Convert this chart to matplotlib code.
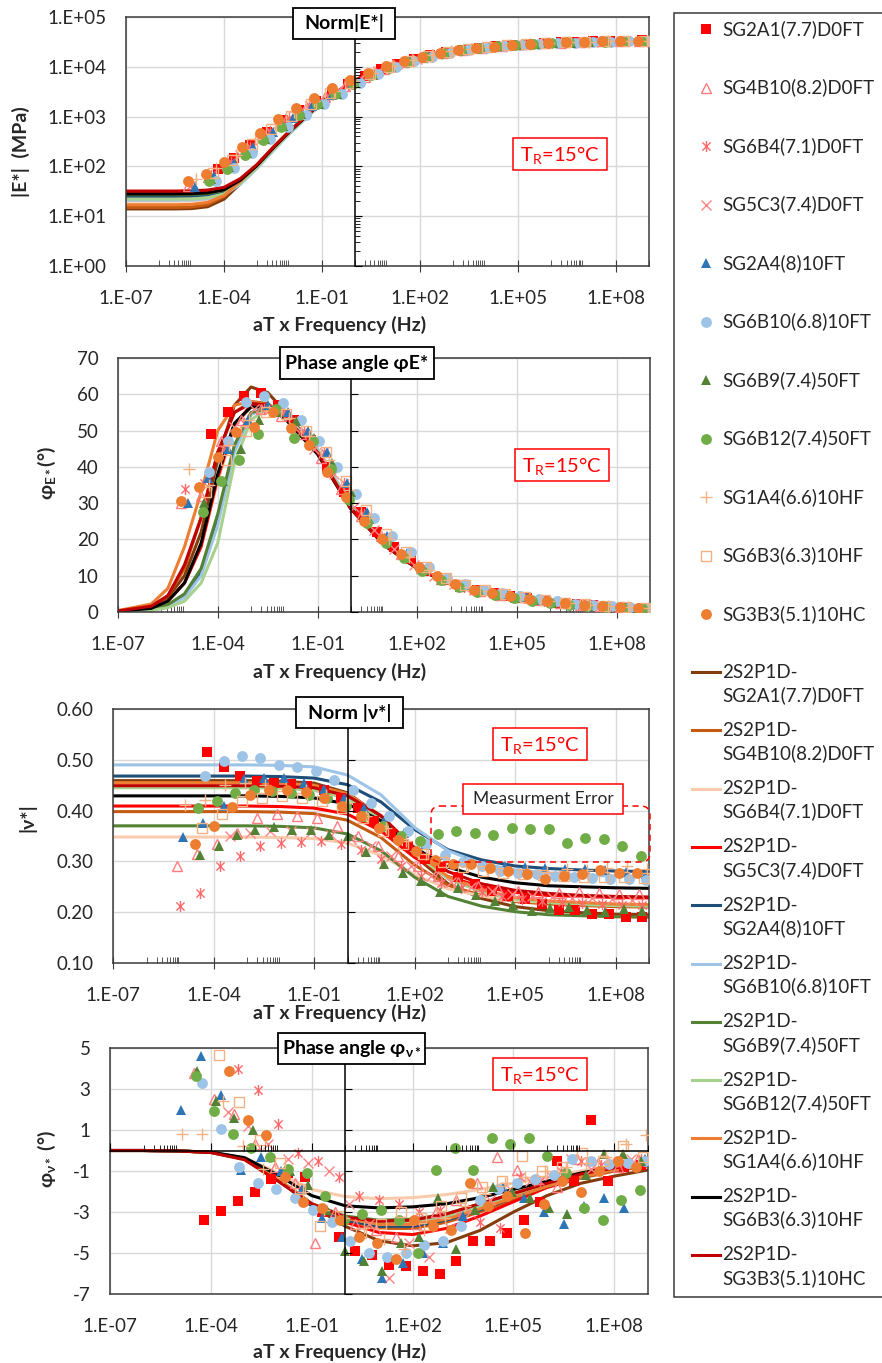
import numpy as np
import matplotlib
matplotlib.use("Agg")
import matplotlib.pyplot as plt
from matplotlib.path import Path
from matplotlib.patches import Rectangle, FancyBboxPatch
from matplotlib.ticker import FixedLocator, NullFormatter, NullLocator, LogLocator

plt.rcParams['font.family'] = ['Lato', 'DejaVu Sans']
plt.rcParams['mathtext.fontset'] = 'custom'
plt.rcParams['mathtext.rm'] = 'Lato'
plt.rcParams['mathtext.bf'] = 'Lato:bold'
plt.rcParams['mathtext.it'] = 'Lato:italic'
plt.rcParams['mathtext.fallback'] = 'stixsans'

nan = np.nan

# ---------------- data (log10 of aT x frequency, per specimen) ----------------
spec_names = ['SG2A1(7.7)D0FT', 'SG4B10(8.2)D0FT', 'SG6B4(7.1)D0FT', 'SG5C3(7.4)D0FT',
              'SG2A4(8)10FT', 'SG6B10(6.8)10FT', 'SG6B9(7.4)50FT', 'SG6B12(7.4)50FT',
              'SG1A4(6.6)10HF', 'SG6B3(6.3)10HF', 'SG3B3(5.1)10HC']

lf_sg2a1 = [-4.2, -3.7, -3.2, -2.7, -2.2, -1.7, -1.2, -0.7, -0.2, 0.3, 0.8, 1.3, 1.8, 2.3, 2.8, 3.3, 3.8, 4.3, 4.8, 5.3, 5.8, 6.3, 6.8, 7.3, 7.8, 8.3, 8.8]
e_sg2a1 = [88, 150, 275, 500, 850, 1380, 2080, 3100, 4600, 6600, 8900, 11500, 14300, 17000, 19700, 22000, 24100, 26000, 27700, 28900, 30000, 31000, 31800, 32600, 33100, 33400, 33800]
phi_sg2a1 = [49, 55, 59.5, 60.3, 57, 53, 47.5, 40, 33, 27.5, 22, 18, 14.5, 11.2, 8.8, 7.2, 6.0, 5.2, 4.4, 3.8, 3.1, 2.6, 2.1, 1.8, 1.5, 1.3, 1.1]
nu_sg2a1 = [0.515, 0.486, 0.468, 0.458, 0.455, 0.452, 0.448, 0.44, 0.425, 0.405, 0.38, 0.355, 0.33, 0.305, 0.289, 0.27, 0.256, 0.241, 0.231, 0.226, 0.217, 0.204, 0.205, 0.197, 0.196, 0.19, 0.19]
phinu_sg2a1 = [-3.39, -2.95, -2.46, -2.0, -1.4, -1.1, -1.3, -3.0, -4.2, -4.9, -5.1, -5.6, -5.65, -5.9, -6.0, -5.4, -4.4, -4.4, -4.0, -3.4, -2.5, -0.5, -1.5, 1.5, -1.5, -0.8, -0.7]

lf_sg4b10 = [-5.1, -4.5, -3.9, -3.3, -2.7, -2.1, -1.5, -0.9, -0.3, 0.3, 0.9, 1.5, 2.1, 2.7, 3.3, 3.9, 4.5, 5.1, 5.7, 6.3, 6.9, 7.5, 8.1, 8.7]
e_sg4b10 = [40, 60, 108, 225, 460, 870, 1500, 2450, 4050, 6300, 9100, 12400, 15700, 18900, 21800, 24200, 26400, 28200, 29400, 30600, 31600, 32500, 32900, 33300]
phi_sg4b10 = [30, 32, 47, 53, 56, 54, 49, 42.5, 34, 26.5, 21, 16, 12, 9.2, 7.2, 5.8, 4.8, 4.0, 3.2, 2.6, 2.0, 1.6, 1.4, 1.2]
nu_sg4b10 = [0.291, 0.315, 0.334, 0.356, 0.385, 0.393, 0.39, 0.385, 0.37, 0.35, 0.33, 0.31, 0.29, 0.272, 0.26, 0.252, 0.245, 0.242, 0.24, 0.238, 0.24, 0.238, 0.236, 0.235]
phinu_sg4b10 = [nan, 3.8, 2.5, 1.8, 0.3, -0.8, -1.6, -4.5, -3.0, -3.6, -3.9, -4.2, -3.6, -3.0, -2.4, -1.6, -0.3, -0.95, -1.4, -1.8, -0.4, -0.6, -0.8, -0.4]

lf_sg6b4 = [-5.0, -4.4, -3.8, -3.2, -2.6, -2.0, -1.4, -0.8, -0.2, 0.4, 1.0, 1.6, 2.2, 2.8, 3.4, 4.0, 4.6, 5.2, 5.8, 6.4, 7.0, 7.6, 8.2, 8.8]
e_sg6b4 = [42, 66, 121, 250, 515, 950, 1680, 2650, 4350, 6800, 9700, 12900, 16200, 19500, 22300, 24600, 26600, 28300, 29500, 30700, 31600, 32500, 32900, 33300]
phi_sg6b4 = [34, 35.5, 45, 52, 56, 55, 50, 44, 35.5, 27, 20.5, 15.5, 11.5, 8.8, 7.0, 5.7, 4.7, 3.9, 3.1, 2.5, 2.0, 1.6, 1.4, 1.2]
nu_sg6b4 = [0.212, 0.238, 0.29, 0.31, 0.33, 0.337, 0.338, 0.34, 0.335, 0.322, 0.305, 0.29, 0.272, 0.258, 0.248, 0.24, 0.232, 0.226, 0.222, 0.22, 0.218, 0.216, 0.215, 0.214]
phinu_sg6b4 = [nan, nan, nan, 4.0, 2.95, 1.3, -0.1, -0.5, -1.3, -2.2, -2.4, -2.6, -3.0, -2.9, -3.2, -3.5, -3.8, -1.3, -1.5, -1.0, -0.5, -0.7, -0.6, -0.4]

lf_sg5c3 = [-3.5, -2.9, -2.3, -1.7, -1.1, -0.5, 0.1, 0.7, 1.3, 1.9, 2.5, 3.1, 3.7, 4.3, 4.9, 5.5, 6.1, 6.7, 7.3, 7.9, 8.5]
e_sg5c3 = [166, 336, 670, 1230, 2080, 3350, 5450, 8100, 11300, 14600, 17900, 21000, 23500, 25700, 27700, 28900, 30200, 31300, 32200, 32700, 33200]
phi_sg5c3 = [51, 56, 55.5, 51, 45, 38, 29, 22.5, 17.5, 13, 9.8, 7.6, 6.2, 5.2, 4.4, 3.6, 2.9, 2.3, 1.8, 1.5, 1.2]
nu_sg5c3 = [0.35, 0.355, 0.36, 0.36, 0.358, 0.352, 0.345, 0.33, 0.31, 0.29, 0.272, 0.26, 0.25, 0.242, 0.236, 0.232, 0.23, 0.228, 0.227, 0.226, 0.225]
phinu_sg5c3 = [1.9, 1.2, 0.3, -0.4, -0.6, -1.0, -2.6, -3.6, -6.2, -4.5, -5.2, -3.8, -3.0, -2.4, -1.9, -1.5, -1.2, -0.4, -0.9, -0.5, -0.4]

lf_sg2a4 = [-4.9, -4.3, -3.7, -3.1, -2.5, -1.9, -1.3, -0.7, -0.1, 0.5, 1.1, 1.7, 2.3, 2.9, 3.5, 4.1, 4.7, 5.3, 5.9, 6.5, 7.1, 7.7, 8.3, 8.9]
e_sg2a4 = [39, 63, 119, 242, 500, 920, 1620, 2680, 4500, 6950, 9950, 13200, 16500, 19700, 22400, 24700, 26700, 28200, 29500, 30700, 31600, 32300, 32700, 33200]
phi_sg2a4 = [30, 37, 45, 53, 57, 55, 50, 44, 35.5, 27.5, 21, 16.2, 12.4, 9.3, 7.3, 6.0, 5.0, 4.1, 3.3, 2.6, 2.0, 1.6, 1.3, 1.1]
nu_sg2a4 = [0.348, 0.376, 0.41, 0.462, 0.465, 0.464, 0.455, 0.443, 0.425, 0.405, 0.38, 0.355, 0.332, 0.312, 0.3, 0.292, 0.29, 0.288, 0.287, 0.286, 0.285, 0.284, 0.28, 0.275]
phinu_sg2a4 = [2.0, 4.6, 2.7, -0.95, -0.3, -1.0, -1.9, -3.3, -4.2, -5.3, -6.2, -5.5, -5.0, -4.5, -3.2, -2.3, -1.8, -2.3, -3.0, -3.6, -2.7, -2.3, -2.8, -0.4]

lf_sg6b10 = [-4.25, -3.7, -3.15, -2.6, -2.05, -1.5, -0.95, -0.4, 0.15, 0.7, 1.25, 1.8, 2.35, 2.9, 3.45, 4.0, 4.55, 5.1, 5.65, 6.2, 6.75, 7.3, 7.85, 8.4, 8.9]
e_sg6b10 = [52, 94, 184, 355, 630, 1080, 1750, 2850, 4750, 7100, 9900, 13000, 16000, 19000, 21600, 23800, 25800, 27500, 28600, 29800, 30700, 31600, 32100, 32500, 32900]
phi_sg6b10 = [38.5, 47, 58, 59.5, 57.5, 53, 47, 40, 32.5, 26, 21, 16.5, 12.5, 9.5, 7.6, 6.2, 5.1, 4.3, 3.6, 2.9, 2.3, 1.9, 1.6, 1.3, 1.1]
nu_sg6b10 = [0.468, 0.498, 0.507, 0.503, 0.49, 0.485, 0.478, 0.46, 0.44, 0.415, 0.39, 0.36, 0.335, 0.312, 0.298, 0.29, 0.282, 0.278, 0.275, 0.272, 0.27, 0.268, 0.266, 0.265, 0.264]
phinu_sg6b10 = [3.3, 1.05, -0.8, -1.6, -1.9, -2.3, -2.9, -3.5, -4.4, -5.0, -5.2, -5.0, -4.6, -4.4, -3.7, -2.4, -1.9, -1.6, -1.4, -1.2, -0.4, -0.5, -0.65, -0.6, -0.5]

lf_sg6b9 = [-4.4, -3.85, -3.3, -2.75, -2.2, -1.65, -1.1, -0.55, 0.0, 0.55, 1.1, 1.65, 2.2, 2.75, 3.3, 3.85, 4.4, 4.95, 5.5, 6.05, 6.6, 7.15, 7.7, 8.25, 8.8]
e_sg6b9 = [57, 97, 185, 360, 650, 1130, 1820, 2900, 4700, 7000, 9800, 12800, 15800, 18800, 21400, 23700, 25700, 27400, 28500, 29700, 30700, 31500, 32200, 32600, 33000]
phi_sg6b9 = [30, 36, 45, 53, 55, 52.5, 48, 41, 33, 25.5, 19.5, 15, 11.5, 8.8, 7.0, 5.7, 4.7, 3.9, 3.2, 2.6, 2.1, 1.7, 1.4, 1.2, 1.0]
nu_sg6b9 = [0.313, 0.33, 0.352, 0.362, 0.367, 0.362, 0.362, 0.352, 0.35, 0.318, 0.295, 0.277, 0.262, 0.24, 0.247, 0.233, 0.222, 0.215, 0.202, 0.209, 0.21, 0.204, 0.2, 0.206, 0.202]
phinu_sg6b9 = [3.9, 2.4, 1.6, 1.0, -0.3, -1.0, -1.7, -2.9, -4.9, -5.4, -5.9, -4.5, -4.2, -2.3, -4.8, -2.9, -1.8, -2.0, -2.3, -2.8, -3.1, -1.2, -0.15, -0.15, -0.5]

lf_sg6b12 = [-4.45, -3.9, -3.35, -2.8, -2.25, -1.7, -1.15, -0.6, -0.05, 0.5, 1.05, 1.6, 2.15, 2.7, 3.25, 3.8, 4.35, 4.9, 5.45, 6.0, 6.55, 7.1, 7.65, 8.2, 8.75]
e_sg6b12 = [52, 88, 172, 345, 625, 1070, 1770, 2800, 4550, 6800, 9600, 12700, 15600, 18600, 21300, 23600, 25600, 27400, 28500, 29700, 30800, 31500, 32200, 32600, 33100]
phi_sg6b12 = [27.5, 36, 42, 49, 56, 48, 47, 39.5, 31, 24.5, 19, 14.8, 11.3, 8.7, 7.0, 5.6, 4.6, 3.8, 3.1, 2.5, 2.0, 1.7, 1.4, 1.2, 1.0]
nu_sg6b12 = [0.405, 0.419, 0.435, 0.44, 0.438, 0.435, 0.43, 0.425, 0.41, 0.39, 0.37, 0.35, 0.34, 0.354, 0.36, 0.356, 0.352, 0.365, 0.364, 0.363, 0.337, 0.347, 0.345, 0.33, 0.31]
phinu_sg6b12 = [3.65, 1.95, 0.8, 0.1, -0.3, -0.9, -1.1, -2.2, -3.4, -3.1, -2.9, -3.4, -5.0, -0.95, 0.1, -0.95, 0.6, 0.3, 0.6, -0.25, -1.1, -2.8, -3.4, -2.4, -1.95]

lf_sg1a4 = [-4.85, -4.25, -3.65, -3.05, -2.45, -1.85, -1.25, -0.65, -0.05, 0.55, 1.15, 1.75, 2.35, 2.95, 3.55, 4.15, 4.75, 5.35, 5.95, 6.55, 7.15, 7.75, 8.35, 8.95]
e_sg1a4 = [56, 91, 173, 355, 710, 1250, 2080, 3250, 5200, 7600, 10500, 13900, 17200, 20300, 22900, 25100, 27100, 28600, 29900, 31100, 31900, 32600, 33100, 33500]
phi_sg1a4 = [39.5, 35, 46, 53, 55.5, 53.5, 48.5, 42, 33.5, 26, 20, 15.2, 11.6, 8.9, 7.0, 5.7, 4.7, 3.9, 3.1, 2.5, 2.0, 1.6, 1.3, 1.1]
nu_sg1a4 = [0.412, 0.42, 0.45, 0.455, 0.45, 0.445, 0.44, 0.43, 0.415, 0.39, 0.365, 0.34, 0.315, 0.3, 0.29, 0.285, 0.28, 0.282, 0.28, 0.285, 0.283, 0.287, 0.29, 0.285]
phinu_sg1a4 = [0.8, 0.8, 2.4, 0.2, -0.9, -1.3, -2.0, -2.9, -3.3, -3.8, -4.3, -4.8, -3.9, -3.3, -2.7, -2.1, -1.6, -1.3, -1.0, -0.8, -0.6, -0.3, 0.3, 0.75]

lf_sg6b3 = [-4.35, -3.75, -3.15, -2.55, -1.95, -1.35, -0.75, -0.15, 0.45, 1.05, 1.65, 2.25, 2.85, 3.45, 4.05, 4.65, 5.25, 5.85, 6.45, 7.05, 7.65, 8.25, 8.85]
e_sg6b3 = [75, 136, 282, 570, 1040, 1780, 2950, 4750, 7200, 10100, 13300, 16600, 19700, 22500, 24800, 26800, 28300, 29600, 30800, 31700, 32400, 32900, 33400]
phi_sg6b3 = [33, 42, 50, 55, 54.5, 50, 44, 36, 28, 21.5, 16.5, 12.5, 9.5, 7.5, 6.0, 5.0, 4.1, 3.3, 2.6, 2.1, 1.7, 1.4, 1.1]
nu_sg6b3 = [0.365, 0.394, 0.418, 0.425, 0.428, 0.425, 0.418, 0.405, 0.385, 0.36, 0.335, 0.315, 0.298, 0.288, 0.282, 0.278, 0.275, 0.273, 0.272, 0.27, 0.27, 0.27, 0.268]
phinu_sg6b3 = [nan, 4.66, 2.35, 0.5, -0.6, -1.9, -3.7, -3.2, -4.0, -3.6, -3.0, -3.3, -2.7, -2.3, -1.8, -1.5, -0.25, -1.0, -0.8, -0.1, -0.5, 0.2, -0.3]

lf_sg3b3 = [-5.1, -4.55, -4.0, -3.45, -2.9, -2.35, -1.8, -1.25, -0.7, -0.15, 0.4, 0.95, 1.5, 2.05, 2.6, 3.15, 3.7, 4.25, 4.8, 5.35, 5.9, 6.45, 7.0, 7.55, 8.1, 8.65]
e_sg3b3 = [50, 70, 120, 240, 470, 880, 1500, 2350, 3700, 5400, 7600, 10200, 13000, 15800, 18600, 21300, 23600, 25500, 27200, 28600, 29800, 30900, 31700, 32500, 33000, 33500]
phi_sg3b3 = [30.5, 34.5, 42.8, 49.6, 51, 55, 50.6, 46, 38.5, 31.7, 25, 20, 16, 12.5, 9.8, 7.6, 6.2, 5.2, 4.4, 3.7, 3.0, 2.4, 2.0, 1.6, 1.3, 1.1]
nu_sg3b3 = [nan, 0.334, 0.369, 0.407, 0.43, 0.44, 0.44, 0.437, 0.425, 0.41, 0.39, 0.365, 0.342, 0.32, 0.303, 0.295, 0.295, 0.287, 0.281, 0.276, 0.265, 0.271, 0.276, 0.283, 0.278, 0.277]
phinu_sg3b3 = [nan, nan, nan, 3.9, 1.5, 0.75, -1.3, -2.5, -2.8, -3.4, -4.2, -4.5, -5.3, -3.4, -3.7, -3.9, -1.6, -2.7, -2.2, -4.0, -2.6, -1.5, -2.0, -1.0, -0.5, -0.8]

# ---------------- 2S2P1D model curves ----------------
model_names = ['2S2P1D-\n' + n for n in spec_names]
g_fast = [-7, -6, -5.5, -5, -4.5, -4, -3.5, -3, -2.5, -2, -1, 0, 1, 2, 3, 4, 5, 6, 7, 8, 9]
g_slow = [-7, -6, -5, -4, -3, -2, -1, 0, 1, 2, 3, 4, 5, 6, 7, 8, 9]

me_sg2a1 = [14, 14, 14, 14.2, 15.5, 22, 45, 95, 220, 480, 1950, 5200, 10400, 15900, 21300, 25300, 28300, 30300, 31700, 32700, 33300]
me_sg4b10 = [15, 15, 15, 15.3, 17, 25, 50, 105, 240, 510, 2050, 5400, 10700, 16200, 21600, 25600, 28600, 30600, 32000, 33000, 33600]
me_sg6b4 = [20, 20, 20, 20.3, 22, 28, 48, 98, 225, 490, 2000, 5300, 10500, 16000, 21500, 25500, 28500, 30500, 31900, 32900, 33500]
me_sg5c3 = [30, 30, 30, 30.3, 31.5, 36, 55, 105, 235, 500, 2000, 5300, 10600, 16100, 21500, 25500, 28500, 30500, 31900, 32900, 33500]
me_sg2a4 = [25, 25, 25, 25.2, 26.5, 31, 50, 100, 225, 480, 1950, 5200, 10400, 15900, 21300, 25300, 28300, 30300, 31700, 32700, 33300]
me_sg6b10 = [21, 21, 21, 21.2, 22.5, 27, 44, 90, 205, 450, 1850, 5000, 10100, 15600, 21000, 25000, 28000, 30000, 31400, 32400, 33000]
me_sg6b9 = [27, 27, 27, 27.2, 28.5, 33, 52, 102, 230, 490, 1980, 5250, 10500, 16000, 21400, 25400, 28400, 30400, 31800, 32800, 33400]
me_sg6b12 = [22, 22, 22, 22.2, 23.5, 28, 46, 94, 215, 465, 1900, 5100, 10250, 15750, 21200, 25200, 28200, 30200, 31600, 32600, 33200]
me_sg1a4 = [17, 17, 17, 17.3, 19, 26, 50, 105, 240, 515, 2050, 5400, 10700, 16200, 21600, 25600, 28600, 30600, 32000, 33000, 33600]
me_sg6b3 = [28, 28, 28, 28.2, 29.5, 34, 53, 103, 232, 495, 1990, 5280, 10500, 16000, 21450, 25450, 28450, 30450, 31850, 32850, 33450]
me_sg3b3 = [32, 32, 32, 32.3, 33.5, 38, 57, 108, 240, 505, 2020, 5330, 10600, 16100, 21500, 25500, 28500, 30500, 31900, 32900, 33500]

mphi_sg2a1 = [0.3, 1.5, 4, 10, 22, 42, 57, 62, 60.5, 55.5, 44.5, 28.5, 18.5, 12, 7.8, 5.6, 4.2, 3.1, 2.3, 1.7, 1.2]
mphi_sg4b10 = [0.3, 1.5, 4.5, 12, 26, 44, 55, 58, 57.5, 54, 44, 28.5, 18.5, 12, 7.8, 5.6, 4.2, 3.1, 2.3, 1.7, 1.2]
mphi_sg6b4 = [0.2, 1, 3, 8, 18, 36, 51, 56.5, 57, 54, 44, 28.5, 18.5, 12, 7.8, 5.6, 4.2, 3.1, 2.3, 1.7, 1.2]
mphi_sg5c3 = [0.2, 1, 3, 8, 18, 37, 51.5, 57, 57, 54, 44, 29, 18.5, 12, 7.8, 5.6, 4.2, 3.1, 2.3, 1.7, 1.2]
mphi_sg2a4 = [0.1, 0.6, 1.8, 4.5, 11, 26, 45, 54.5, 56.5, 54, 44.5, 29, 18.5, 12, 7.8, 5.6, 4.2, 3.1, 2.3, 1.7, 1.2]
mphi_sg6b10 = [0.1, 0.6, 1.7, 4, 10, 24, 44, 54.5, 56.5, 54.5, 45, 29.5, 18.5, 12, 7.8, 5.6, 4.2, 3.1, 2.3, 1.7, 1.2]
mphi_sg6b9 = [0.1, 0.7, 2, 5, 12, 27, 46, 55, 56, 53.5, 44, 29, 18.5, 12, 7.8, 5.6, 4.2, 3.1, 2.3, 1.7, 1.2]
mphi_sg6b12 = [0.1, 0.4, 1.2, 3, 8, 19, 41, 53, 56, 54, 44.5, 29, 18.5, 12, 7.8, 5.6, 4.2, 3.1, 2.3, 1.7, 1.2]
mphi_sg1a4 = [0.4, 2.2, 6.5, 18, 33, 50, 57, 58, 57, 54, 44, 28.5, 18.5, 12, 7.8, 5.6, 4.2, 3.1, 2.3, 1.7, 1.2]
mphi_sg6b3 = [0.2, 1, 3, 8, 19, 38, 52, 56.5, 56.5, 53.5, 43.5, 28.5, 18.5, 12, 7.8, 5.6, 4.2, 3.1, 2.3, 1.7, 1.2]
mphi_sg3b3 = [0.3, 1.6, 4.5, 13, 26, 44, 55, 57.5, 57, 54, 44, 28.5, 18.5, 12, 7.8, 5.6, 4.2, 3.1, 2.3, 1.7, 1.2]

mnu_sg2a1 = [0.459, 0.459, 0.459, 0.459, 0.459, 0.458, 0.454, 0.435, 0.388, 0.311, 0.256, 0.227, 0.211, 0.203, 0.199, 0.196, 0.195]
mnu_sg4b10 = [0.398, 0.398, 0.398, 0.398, 0.398, 0.397, 0.394, 0.381, 0.347, 0.293, 0.253, 0.233, 0.221, 0.216, 0.213, 0.211, 0.21]
mnu_sg6b4 = [0.348, 0.348, 0.348, 0.348, 0.348, 0.347, 0.345, 0.336, 0.312, 0.274, 0.246, 0.232, 0.223, 0.219, 0.217, 0.216, 0.215]
mnu_sg5c3 = [0.409, 0.409, 0.409, 0.409, 0.409, 0.408, 0.405, 0.393, 0.36, 0.308, 0.27, 0.25, 0.239, 0.233, 0.231, 0.229, 0.228]
mnu_sg2a4 = [0.468, 0.468, 0.468, 0.468, 0.468, 0.467, 0.464, 0.451, 0.417, 0.363, 0.323, 0.303, 0.291, 0.286, 0.283, 0.281, 0.28]
mnu_sg6b10 = [0.49, 0.49, 0.49, 0.49, 0.49, 0.489, 0.486, 0.47, 0.431, 0.367, 0.321, 0.296, 0.283, 0.277, 0.273, 0.271, 0.27]
mnu_sg6b9 = [0.37, 0.37, 0.37, 0.37, 0.37, 0.369, 0.366, 0.354, 0.321, 0.269, 0.231, 0.212, 0.201, 0.195, 0.193, 0.191, 0.19]
mnu_sg6b12 = [0.445, 0.445, 0.445, 0.445, 0.445, 0.444, 0.44, 0.424, 0.382, 0.315, 0.266, 0.24, 0.226, 0.219, 0.215, 0.213, 0.212]
mnu_sg1a4 = [0.455, 0.455, 0.455, 0.455, 0.455, 0.454, 0.45, 0.433, 0.39, 0.321, 0.27, 0.244, 0.229, 0.222, 0.219, 0.216, 0.215]
mnu_sg6b3 = [0.429, 0.429, 0.429, 0.429, 0.429, 0.428, 0.425, 0.413, 0.38, 0.327, 0.289, 0.269, 0.258, 0.252, 0.25, 0.248, 0.247]
mnu_sg3b3 = [0.449, 0.449, 0.449, 0.449, 0.449, 0.448, 0.445, 0.429, 0.39, 0.326, 0.28, 0.256, 0.243, 0.237, 0.233, 0.231, 0.23]

mpn_sg2a1 = [0, 0, -0.02, -0.08, -0.4, -1.4, -2.7, -3.7, -4.4, -4.65, -4.5, -3.9, -3.0, -2.2, -1.6, -1.25, -0.95]
mpn_sg4b10 = [0, 0, -0.02, -0.09, -0.4, -1.4, -2.6, -3.4, -3.8, -3.8, -3.5, -3.0, -2.4, -1.8, -1.35, -1.0, -0.75]
mpn_sg6b4 = [0, 0, -0.02, -0.08, -0.35, -1.1, -1.9, -2.25, -2.35, -2.3, -2.15, -1.9, -1.6, -1.3, -1.0, -0.75, -0.55]
mpn_sg5c3 = [0, 0, -0.02, -0.09, -0.4, -1.4, -2.6, -3.5, -4.0, -4.1, -3.8, -3.2, -2.5, -1.8, -1.3, -0.9, -0.65]
mpn_sg2a4 = [0, 0, -0.02, -0.09, -0.4, -1.45, -2.7, -3.4, -3.7, -3.7, -3.4, -2.9, -2.3, -1.75, -1.3, -0.95, -0.7]
mpn_sg6b10 = [0, 0, -0.02, -0.08, -0.38, -1.4, -2.6, -3.3, -3.6, -3.6, -3.3, -2.8, -2.2, -1.7, -1.25, -0.9, -0.65]
mpn_sg6b9 = [0, 0, -0.02, -0.09, -0.42, -1.45, -2.6, -3.2, -3.4, -3.35, -3.1, -2.6, -2.1, -1.6, -1.2, -0.9, -0.65]
mpn_sg6b12 = [0, 0, -0.02, -0.09, -0.4, -1.42, -2.6, -3.25, -3.5, -3.45, -3.2, -2.7, -2.15, -1.65, -1.2, -0.9, -0.65]
mpn_sg1a4 = [0, 0, -0.02, -0.09, -0.4, -1.4, -2.6, -3.3, -3.6, -3.6, -3.35, -2.85, -2.3, -1.75, -1.3, -0.95, -0.7]
mpn_sg6b3 = [0, 0, -0.02, -0.08, -0.35, -1.2, -2.2, -2.7, -2.8, -2.75, -2.6, -2.3, -1.9, -1.5, -1.1, -0.8, -0.6]
mpn_sg3b3 = [0, 0, -0.02, -0.1, -0.45, -1.5, -2.6, -3.25, -3.45, -3.4, -3.1, -2.6, -2.1, -1.6, -1.15, -0.85, -0.6]

# ---------------- axis ticks ----------------
xtick_vals = [1e-7, 1e-4, 1e-1, 1e2, 1e5, 1e8]
xtick_text = ['1.E-07', '1.E-04', '1.E-01', '1.E+02', '1.E+05', '1.E+08']
e_ticks = [1, 10, 100, 1000, 10000, 100000]
e_tick_text = ['1.E+00', '1.E+01', '1.E+02', '1.E+03', '1.E+04', '1.E+05']
phi_ticks = [0, 10, 20, 30, 40, 50, 60, 70]
nu_ticks = [0.1, 0.2, 0.3, 0.4, 0.5, 0.6]
nu_tick_text = ['0.10', '0.20', '0.30', '0.40', '0.50', '0.60']
pn_ticks = [-7, -5, -3, -1, 1, 3, 5]

# ---------------- styles ----------------
STAR = Path([(-1, -1), (1, 1), (-1, 1), (1, -1), (0, -1.35), (0, 1.35)],
            [Path.MOVETO, Path.LINETO, Path.MOVETO, Path.LINETO, Path.MOVETO, Path.LINETO])

spec_style = [
    dict(marker='s', ms=6.5, mfc='#ff0000', mec='#ff0000', mew=0),
    dict(marker='^', ms=7, mfc='none', mec='#ff7c80', mew=1),
    dict(marker=STAR, ms=8, mfc='none', mec='#ff6b6b', mew=1),
    dict(marker='x', ms=6.5, mfc='none', mec='#ff8585', mew=1),
    dict(marker='^', ms=7.5, mfc='#2e75b6', mec='#2e75b6', mew=0),
    dict(marker='o', ms=7.8, mfc='#9dc3e6', mec='#9dc3e6', mew=0),
    dict(marker='^', ms=7.5, mfc='#548235', mec='#548235', mew=0),
    dict(marker='o', ms=7.8, mfc='#70ad47', mec='#70ad47', mew=0),
    dict(marker='+', ms=8, mfc='none', mec='#f4b183', mew=1),
    dict(marker='s', ms=6.5, mfc='none', mec='#f4b183', mew=1),
    dict(marker='o', ms=7.8, mfc='#ed7d31', mec='#ed7d31', mew=0),
]
model_colors = ['#843c0c', '#c55a11', '#f8cbad', '#ff0000', '#1f4e79', '#9dc3e6',
                '#548235', '#a9d18e', '#ed7d31', '#000000', '#c00000']

spec_lf = [lf_sg2a1, lf_sg4b10, lf_sg6b4, lf_sg5c3, lf_sg2a4, lf_sg6b10, lf_sg6b9, lf_sg6b12, lf_sg1a4, lf_sg6b3, lf_sg3b3]
spec_e = [e_sg2a1, e_sg4b10, e_sg6b4, e_sg5c3, e_sg2a4, e_sg6b10, e_sg6b9, e_sg6b12, e_sg1a4, e_sg6b3, e_sg3b3]
spec_phi = [phi_sg2a1, phi_sg4b10, phi_sg6b4, phi_sg5c3, phi_sg2a4, phi_sg6b10, phi_sg6b9, phi_sg6b12, phi_sg1a4, phi_sg6b3, phi_sg3b3]
spec_nu = [nu_sg2a1, nu_sg4b10, nu_sg6b4, nu_sg5c3, nu_sg2a4, nu_sg6b10, nu_sg6b9, nu_sg6b12, nu_sg1a4, nu_sg6b3, nu_sg3b3]
spec_pn = [phinu_sg2a1, phinu_sg4b10, phinu_sg6b4, phinu_sg5c3, phinu_sg2a4, phinu_sg6b10, phinu_sg6b9, phinu_sg6b12, phinu_sg1a4, phinu_sg6b3, phinu_sg3b3]
mod_e = [me_sg2a1, me_sg4b10, me_sg6b4, me_sg5c3, me_sg2a4, me_sg6b10, me_sg6b9, me_sg6b12, me_sg1a4, me_sg6b3, me_sg3b3]
mod_phi = [mphi_sg2a1, mphi_sg4b10, mphi_sg6b4, mphi_sg5c3, mphi_sg2a4, mphi_sg6b10, mphi_sg6b9, mphi_sg6b12, mphi_sg1a4, mphi_sg6b3, mphi_sg3b3]
mod_nu = [mnu_sg2a1, mnu_sg4b10, mnu_sg6b4, mnu_sg5c3, mnu_sg2a4, mnu_sg6b10, mnu_sg6b9, mnu_sg6b12, mnu_sg1a4, mnu_sg6b3, mnu_sg3b3]
mod_pn = [mpn_sg2a1, mpn_sg4b10, mpn_sg6b4, mpn_sg5c3, mpn_sg2a4, mpn_sg6b10, mpn_sg6b9, mpn_sg6b12, mpn_sg1a4, mpn_sg6b3, mpn_sg3b3]

W, H = 882, 1363
TICK_FS = 13.5
LABEL_FS = 14
TXT = '#262626'

minor_x = [k * 10.0 ** (n + 1) for n in (-7, -4, -1, 2, 5) for k in range(1, 10)] + [1e9]


def rect(l, t, r, b):
    return [l / W, 1 - b / H, (r - l) / W, (b - t) / H]


def style_panel(ax, ylim, yticks, ytext, log_y=False, x_at_zero=False):
    ax.set_xscale('log')
    if log_y:
        ax.set_yscale('log')
    ax.set_xlim(1e-7, 1e9)
    ax.set_ylim(*ylim)
    ax.xaxis.set_major_locator(FixedLocator(xtick_vals))
    ax.set_xticklabels(xtick_text)
    ax.xaxis.set_minor_locator(FixedLocator(minor_x))
    ax.xaxis.set_minor_formatter(NullFormatter())
    ax.yaxis.set_major_locator(FixedLocator(yticks))
    ax.set_yticklabels(ytext)
    ax.yaxis.set_minor_locator(NullLocator())
    ax.grid(True, which='major', color='#d9d9d9', lw=1.0)
    ax.set_axisbelow(True)
    for s in ax.spines.values():
        s.set_color('#3a3a3a')
        s.set_linewidth(1.1)
    ax.tick_params(axis='y', which='both', length=0, pad=14, labelsize=TICK_FS, labelcolor=TXT)
    if x_at_zero:
        ax.tick_params(axis='x', which='both', length=0, pad=17, labelsize=TICK_FS, labelcolor=TXT)
        ah = ax.twiny()
        ah.set_xscale('log')
        ah.set_xlim(1e-7, 1e9)
        ah.xaxis.set_major_locator(FixedLocator(xtick_vals))
        ah.xaxis.set_minor_locator(FixedLocator(minor_x))
        ah.xaxis.set_minor_formatter(NullFormatter())
        for k in ('left', 'right', 'bottom'):
            ah.spines[k].set_visible(False)
        ah.spines['top'].set_position(('data', 0))
        ah.spines['top'].set_color('black')
        ah.spines['top'].set_linewidth(1.1)
        ah.tick_params(axis='x', which='major', direction='out', length=6, labeltop=False, color='black')
        ah.tick_params(axis='x', which='minor', direction='out', length=4.5, color='black')
    else:
        ax.tick_params(axis='x', which='major', direction='inout', length=8, pad=13,
                       labelsize=TICK_FS, labelcolor=TXT, color='#3a3a3a')
        ax.tick_params(axis='x', which='minor', direction='in', length=4.5, color='#3a3a3a')
    # vertical axis crossing at 1 Hz
    av = ax.twinx()
    if log_y:
        av.set_yscale('log')
    av.set_ylim(*ylim)
    av.yaxis.set_major_locator(FixedLocator(yticks))
    if log_y:
        av.yaxis.set_minor_locator(LogLocator(subs=tuple(range(2, 10))))
    else:
        av.yaxis.set_minor_locator(NullLocator())
    av.yaxis.set_minor_formatter(NullFormatter())
    for k in ('left', 'top', 'bottom'):
        av.spines[k].set_visible(False)
    av.spines['right'].set_position(('data', 1.0))
    av.spines['right'].set_color('black')
    av.spines['right'].set_linewidth(1.1)
    av.tick_params(axis='y', which='major', direction='out', length=5, labelright=False, color='black')
    av.tick_params(axis='y', which='minor', direction='out', length=3.5, color='black')


def draw_series(ax, grid, models, values):
    gx = 10.0 ** np.array(grid)
    for col, m in zip(model_colors, models):
        ax.plot(gx, m, color=col, lw=2.2, zorder=2, solid_joinstyle='round')
    for lf, v, st in zip(spec_lf, values, spec_style):
        ax.plot(10.0 ** np.array(lf), v, linestyle='none', zorder=3, clip_on=True, **st)


fig = plt.figure(figsize=(W / 100, H / 100), dpi=100)
fig.patch.set_facecolor('white')

ax1 = fig.add_axes(rect(126, 17, 649, 266))
draw_series(ax1, g_fast, mod_e, spec_e)
style_panel(ax1, (1, 1e5), e_ticks, e_tick_text, log_y=True)

ax2 = fig.add_axes(rect(118, 358, 650, 612))
draw_series(ax2, g_fast, mod_phi, spec_phi)
style_panel(ax2, (0, 70), phi_ticks, [str(t) for t in phi_ticks])

ax3 = fig.add_axes(rect(113, 709, 649, 963))
draw_series(ax3, g_slow, mod_nu, spec_nu)
style_panel(ax3, (0.1, 0.6), nu_ticks, nu_tick_text)

ax4 = fig.add_axes(rect(110, 1048, 648, 1294))
draw_series(ax4, g_slow, mod_pn, spec_pn)
style_panel(ax4, (-7, 5), pn_ticks, [str(t) for t in pn_ticks], x_at_zero=True)

# ---------------- annotation layer in pixel coordinates ----------------
ann = fig.add_axes([0, 0, 1, 1], zorder=20)
ann.set_xlim(0, W)
ann.set_ylim(H, 0)
ann.axis('off')
ann.patch.set_visible(False)


def box(l, t, r, b, ec, lw=1.2, ls='-'):
    ann.add_patch(Rectangle((l, t), r - l, b - t, facecolor='white', edgecolor=ec, lw=lw, ls=ls, zorder=5))


title_boxes = [
    ((293, 8, 395, 39), 'Norm|E*|'),
    ((280, 347, 434, 379), 'Phase angle φE*'),
    ((296, 697, 403, 728), 'Norm |ν*|'),
    ((278, 1033, 425, 1064), r'Phase angle φ$_{\mathbf{ν*}}$'),
]
for (l, t, r, b), s in title_boxes:
    box(l, t, r, b, 'black', lw=1.3)
    ann.text((l + r) / 2, (t + b) / 2, s, ha='center', va='center', fontsize=LABEL_FS,
             fontweight='bold', color='black', zorder=6)

tr_boxes = [(513, 138, 607, 170), (515, 449, 609, 481), (493, 728, 587, 760), (493, 1058, 587, 1090)]
for l, t, r, b in tr_boxes:
    box(l, t, r, b, '#ff0000', lw=1.1)
    ann.text((l + r) / 2, (t + b) / 2 + 1, r'T$_{\mathregular{R}}$=15°C', ha='center', va='center',
             fontsize=14.5, color='#ff0000', zorder=6)

# measurement-error callout
ann.add_patch(FancyBboxPatch((431, 806), 219, 56, boxstyle='round,pad=0,rounding_size=9',
                             facecolor='none', edgecolor='#ff0000', lw=1.1, ls=(0, (4, 3)), zorder=4))
box(463, 784, 623, 814, '#ff0000', lw=1.1)
ann.text(543, 799, 'Measurment Error', ha='center', va='center', fontsize=12.5, color=TXT, zorder=6)

# axis titles
ylabels = [(21, 152, '|E*|  (MPa)'), (47, 473, r'φ$_{\mathbf{E*}}$(°)'),
           (27, 818, '|ν*|'), (47, 1159, r'φ$_{\mathbf{ν*}}$ (°)')]
for x, y, s in ylabels:
    ann.text(x, y, s, rotation=90, ha='center', va='center', fontsize=LABEL_FS, fontweight='bold', color=TXT)
for y in (325, 672, 1013, 1352):
    ann.text(340, y, 'aT x Frequency (Hz)', ha='center', va='center', fontsize=LABEL_FS,
             fontweight='bold', color=TXT)

# legend panel
ann.add_patch(Rectangle((674, 13), 240, 1284, facecolor='white', edgecolor='#3a3a3a', lw=1.1, zorder=1))
for i, (name, st) in enumerate(zip(spec_names, spec_style)):
    y = 29 + i * 58.5
    ann.plot([706], [y], linestyle='none', zorder=3, **st)
    ann.text(722, y, name, ha='left', va='center', fontsize=TICK_FS, color=TXT, zorder=3)
for j, (name, col) in enumerate(zip(model_names, model_colors)):
    y = 672 + j * 58.3
    ann.plot([692, 720], [y, y], color=col, lw=2.2, zorder=3)
    top, bottom = name.split('\n')
    ann.text(722, y, top, ha='left', va='center', fontsize=TICK_FS, color=TXT, zorder=3)
    ann.text(722, y + 23, bottom, ha='left', va='center', fontsize=TICK_FS, color=TXT, zorder=3)

fig.savefig('out.png', dpi=100, facecolor='white')
